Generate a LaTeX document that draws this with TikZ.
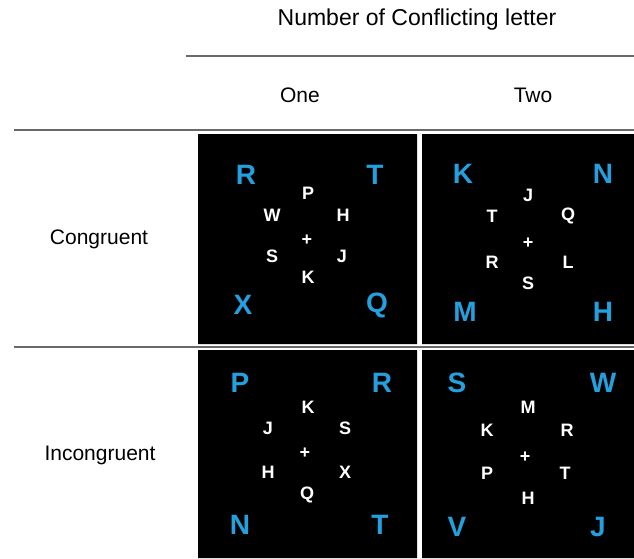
\documentclass[tikz,border=0pt]{standalone}
\usepackage{fontspec}
\setmainfont{Liberation Sans}
\usepackage{xcolor}
\usetikzlibrary{positioning}
\definecolor{letterblue}{RGB}{36,160,222}
\definecolor{rulegrey}{RGB}{105,105,105}

\begin{document}
\begin{tikzpicture}[x=1pt,y=-1pt,
  head/.style={inner sep=0pt,font=\fontsize{21}{25}\selectfont},
  outer/.style={inner sep=0pt,text=letterblue,font=\fontsize{28}{32}\selectfont\bfseries},
  inner/.style={inner sep=0pt,text=white,font=\fontsize{18}{21}\selectfont\bfseries},
  rule/.style={rulegrey,line width=2pt}]
\useasboundingbox (0,0) rectangle (634,558);
% header and rules
\node[head,font=\fontsize{23}{27}\selectfont] (title) at (417,20) {Number of Conflicting letter};
\draw[rule](186,56)--(634,56);
\node[head] (one) at (300,95) {One};
\node[head] (two) at (533,95) {Two};
\draw[rule](14,130)--(634,130);
\draw[rule](14,347)--(634,347);
\node[head] (cong) at (99,239) {Congruent};
\node[head] (incong) at (100,455) {Incongruent};
% panels
\fill(198,134)rectangle(417,344)
(422,134)rectangle(634,344)
(198,350)rectangle(417,558)
(422,350)rectangle(634,558);
% one, congruent
\foreach \n/\t/\x/\y in {a/R/246/175,b/T/375/175,c/X/243/305,d/Q/377/305}
  \node[outer] (p1-\n) at (\x,\y) {\t};
\foreach \n/\t/\x/\y in {a/P/308/193,b/W/272/215,c/H/343/215,d/+/307/240,e/S/272/256,f/J/342/256,g/K/308/277}
  \node[inner] (p1-i\n) at (\x,\y) {\t};
% two, congruent
\foreach \n/\t/\x/\y in {a/K/463/174,b/N/603/174,c/M/465/312,d/H/603/312}
  \node[outer] (p2-\n) at (\x,\y) {\t};
\foreach \n/\t/\x/\y in {a/J/528/195,b/T/492/216,c/Q/568/216,d/+/528/243,e/R/492/262,f/L/568/262,g/S/528/283}
  \node[inner] (p2-i\n) at (\x,\y) {\t};
% one, incongruent
\foreach \n/\t/\x/\y in {a/P/240/383,b/R/382/383,c/N/240/525,d/T/380/525}
  \node[outer] (p3-\n) at (\x,\y) {\t};
\foreach \n/\t/\x/\y in {a/K/308/407,b/J/268/428,c/S/345/428,d/+/305/453,e/H/268/472,f/X/345/472,g/Q/307/495}
  \node[inner] (p3-i\n) at (\x,\y) {\t};
% two, incongruent
\foreach \n/\t/\x/\y in {a/S/457/383,b/W/603/383,c/V/457/527,d/J/598/527}
  \node[outer] (p4-\n) at (\x,\y) {\t};
\foreach \n/\t/\x/\y in {a/M/528/407,b/K/487/430,c/R/567/430,d/+/525/457,e/P/487/473,f/T/565/473,g/H/528/498}
  \node[inner] (p4-i\n) at (\x,\y) {\t};
\end{tikzpicture}
\end{document}
